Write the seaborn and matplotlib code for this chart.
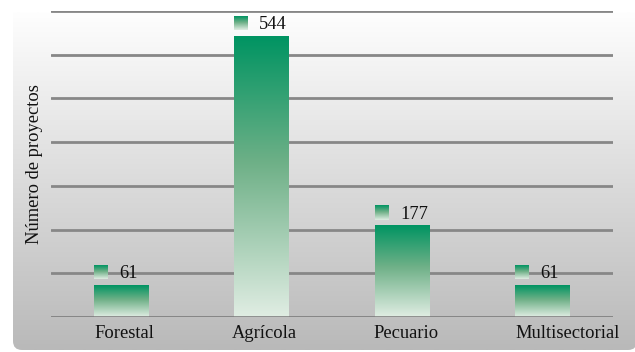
import numpy as np
import pandas as pd
import matplotlib
matplotlib.use("Agg")
import matplotlib.pyplot as plt
import matplotlib.transforms as mtransforms
from matplotlib.path import Path
from matplotlib.patches import PathPatch
import seaborn as sns

# Project counts per sector
sectors = ["Forestal", "Agrícola", "Pecuario", "Multisectorial"]
projects = [61, 544, 177, 61]
y_label = "Número de proyectos"

df = pd.DataFrame({"sector": sectors, "proyectos": projects})

sns.set_style("white")
plt.rcParams["font.family"] = "serif"
plt.rcParams["font.serif"] = ["Liberation Serif", "DejaVu Serif"]
FONT = ["Liberation Serif", "DejaVu Serif"]

W, H = 635, 352
fig = plt.figure(figsize=(W / 100, H / 100), dpi=100)
fig.patch.set_facecolor("white")

# Grey background panel with a soft vertical gradient and rounded bottom corners
bg = fig.add_axes([0, 0, 1, 1], zorder=0)
bg.set_xlim(0, W)
bg.set_ylim(H, 0)
bg.axis("off")
x0, x1, y0, y1, r = 13, 637, 12, 350, 9
verts = [(x0, y0), (x1, y0), (x1, y1 - r), (x1, y1), (x1 - r, y1),
         (x0 + r, y1), (x0, y1), (x0, y1 - r), (x0, y0)]
codes = [Path.MOVETO, Path.LINETO, Path.LINETO, Path.CURVE3, Path.CURVE3,
         Path.LINETO, Path.CURVE3, Path.CURVE3, Path.CLOSEPOLY]
panel = PathPatch(Path(verts, codes), facecolor="none", edgecolor="none",
                  transform=bg.transData)
bg.add_patch(panel)
t = np.linspace(0, 1, 256)[:, None]
top_g, bot_g = 254 / 255, 185 / 255
grey = top_g + (bot_g - top_g) * t
grey_img = np.dstack([grey, grey, grey])
im = bg.imshow(grey_img, extent=[x0, x1, y1, y0], origin="upper",
               aspect="auto", interpolation="bilinear")
im.set_clip_path(panel)

# Main chart area
ax = fig.add_axes([51 / W, 35 / H, 562 / W, 306 / H], zorder=1)
ax.set_facecolor("none")
ymax = 592.4
sns.barplot(data=df, x="sector", y="proyectos", ax=ax, width=0.39,
            color="#009462", saturation=1)
ax.set_xlim(-0.5, len(sectors) - 0.5)
ax.set_ylim(0, ymax)

ticks = np.linspace(0, ymax, 8)
ax.set_yticks(ticks)
ax.set_yticklabels([])
ax.tick_params(axis="y", length=0)
ax.tick_params(axis="x", length=0, pad=6, labelsize=13.3)
# category labels sit slightly right of the bar centres; the long last one more so
shifts_px = [3, 3, 4, 25]
for lab, dx in zip(ax.get_xticklabels(), shifts_px):
    lab.set_color("#111111")
    lab.set_family(FONT)
    lab.set_transform(lab.get_transform() +
                      mtransforms.ScaledTranslation(dx / 100, 0, fig.dpi_scale_trans))
ax.grid(axis="y", color="#878787", linewidth=2, zorder=0)
ax.set_axisbelow(True)
sns.despine(ax=ax, left=True, bottom=True)
ax.set_xlabel("")
ax.set_ylabel(y_label, fontsize=13.3, color="#111111", family=FONT)
ax.yaxis.set_label_coords(-0.015, 0.5)

# Green vertical gradient used for bars and legend chips
stops = np.array([[0, 148, 98], [110, 176, 135], [224, 237, 227]]) / 255
pos = np.array([0.0, 0.45, 1.0])
tt = np.linspace(0, 1, 256)
green = np.stack([np.interp(tt, pos, stops[:, c]) for c in range(3)], axis=1)
green_img = green[:, None, :]

ppx = ax.bbox.width / (len(sectors))
ppy = ax.bbox.height / ymax

bars = list(ax.patches)
for bar, val in zip(bars, projects):
    bx, bw, bh = bar.get_x(), bar.get_width(), bar.get_height()
    ax.imshow(green_img, extent=[bx, bx + bw, 0, bh], origin="upper",
              aspect="auto", zorder=2, interpolation="bilinear")
    bar.set_visible(False)
    # small gradient chip beside the value
    cb = bh + 6 / ppy
    ax.imshow(green_img, extent=[bx, bx + 14 / ppx, cb, cb + 14 / ppy],
              origin="upper", aspect="auto", zorder=2, interpolation="bilinear")
    ax.annotate(f"{val}", xy=(bx, bh), xytext=(25, 7),
                textcoords="offset pixels", ha="left", va="baseline",
                fontsize=13.3, color="#111111", family=FONT)

ax.axhline(0, color="#878787", linewidth=2, zorder=3)
ax.set_xlim(-0.5, len(sectors) - 0.5)
ax.set_ylim(0, ymax)

fig.savefig("out.png", dpi=100)
